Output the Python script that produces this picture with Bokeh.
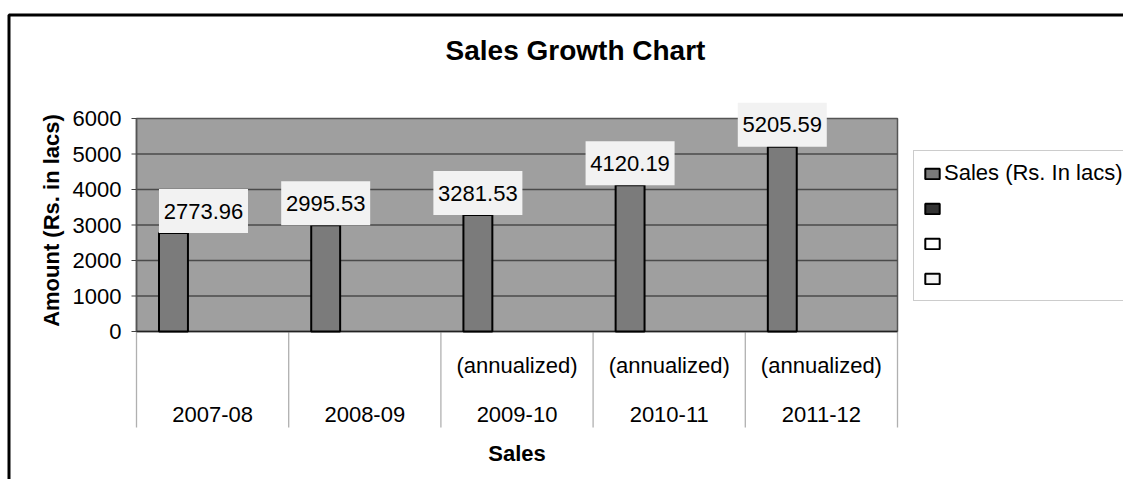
import math
from bokeh.plotting import figure
from bokeh.models import ColumnDataSource, Range1d, Legend, LegendItem
from bokeh.core.properties import value
from bokeh.embed import file_html
from bokeh.resources import INLINE

# ---------------- data ----------------
years = ["2007-08", "2008-09", "2009-10", "2010-11", "2011-12"]
notes = ["", "", "(annualized)", "(annualized)", "(annualized)"]
sales = [2773.96, 2995.53, 3281.53, 4120.19, 5205.59]
series_names = ["Sales (Rs. In lacs)", " ", " ", " "]
y_ticks = [0, 1000, 2000, 3000, 4000, 5000, 6000]
title_text = "Sales Growth Chart"
x_title = "Sales"
y_title = "Amount (Rs. in lacs)"

# ---------------- layout (figure pixels) ----------------
W, H = 1123, 479
PLOT_L, PLOT_R = 136, 897
PLOT_T, PLOT_B = 118, 331
Y_MAX = y_ticks[-1]
n = len(years)
sx = (PLOT_R - PLOT_L) / n
sy = (PLOT_B - PLOT_T) / Y_MAX


def X(px):
    return (px - PLOT_L) / sx


def Y(py):
    return (PLOT_B - py) / sy


def dx(px):
    return px / sx


def dy(px):
    return px / sy


FONT_NAME = "Liberation Sans"
FONT = value(FONT_NAME)

p = figure(width=W, height=H, x_range=Range1d(X(0), X(W)), y_range=Range1d(Y(H), Y(0)),
           x_axis_type=None, y_axis_type=None, toolbar_location=None,
           output_backend="svg", min_border=0, outline_line_color=None,
           background_fill_color="white", border_fill_color="white")

# plot area
p.quad(left=0, right=n, bottom=0, top=Y_MAX, fill_color="#9f9f9f",
       line_color="#555555", line_width=1.5)
# gridlines
grid = [t for t in y_ticks if 0 < t < Y_MAX]
p.segment(x0=[0] * len(grid), x1=[n] * len(grid), y0=grid, y1=grid,
          line_color="#4a4a4a", line_width=1.3)
# category dividers below the axis
bounds = list(range(n + 1))
p.segment(x0=bounds, x1=bounds, y0=[0] * len(bounds), y1=[Y(427)] * len(bounds),
          line_color="#b0b0b0", line_width=1.3)
# y axis line + ticks
p.segment(x0=[0], x1=[0], y0=[0], y1=[Y_MAX], line_color="#555555", line_width=1.5)
p.segment(x0=[X(PLOT_L - 5)] * len(y_ticks), x1=[0] * len(y_ticks), y0=y_ticks, y1=y_ticks,
          line_color="#444444", line_width=1.2)
# x axis line
p.segment(x0=[0], x1=[n], y0=[0], y1=[0], line_color="#222222", line_width=1.5)

# bars (first of four series in each group)
BAR_W = 0.19
BAR_OFF = -0.257
bar_x = [i + 0.5 + BAR_OFF for i in range(n)]
src = ColumnDataSource(dict(x=bar_x, top=sales))
r1 = p.vbar(x="x", top="top", width=BAR_W, source=src, fill_color="#7b7b7b",
            line_color="black", line_width=2)
# the three other (empty) series shown in the legend
empty_colors = ["#333333", "#ffffff", "#f4f4f4"]
extra = []
for c in empty_colors:
    extra.append(p.vbar(x=[float("nan")], top=[float("nan")], width=BAR_W, fill_color=c,
                        line_color="black", line_width=2))

# data labels on boxes
label_shift_px = [30, 0, 0, 0, 0]
BOX_W, BOX_H = 89, 44
lab_x = [bx + dx(s) for bx, s in zip(bar_x, label_shift_px)]
lab_y = [v + dy(BOX_H / 2) for v in sales]
lab_src = ColumnDataSource(dict(x=lab_x, y=lab_y, t=[f"{v:.2f}" for v in sales]))
p.rect(x="x", y="y", width=dx(BOX_W), height=dy(BOX_H), source=lab_src,
       fill_color="#f2f2f2", line_color=None)
p.text(x="x", y="y", text="t", source=lab_src, text_align="center", text_baseline="middle",
       text_font=FONT, text_font_size="22px", text_color="black")

# y tick labels
p.text(x=[X(121)] * len(y_ticks), y=y_ticks, text=[str(t) for t in y_ticks],
       text_align="right", text_baseline="middle", text_font=FONT,
       text_font_size="22px", text_color="black")

# category labels
centers = [i + 0.5 for i in range(n)]
p.text(x=centers, y=[Y(365)] * n, text=notes, text_align="center", text_baseline="middle",
       text_font=FONT, text_font_size="22px", text_color="black")
p.text(x=centers, y=[Y(414)] * n, text=years, text_align="center", text_baseline="middle",
       text_font=FONT, text_font_size="22px", text_color="black")

# axis titles
p.text(x=[n / 2], y=[Y(453)], text=[x_title], text_align="center", text_baseline="middle",
       text_font=FONT, text_font_size="22px", text_font_style="bold", text_color="black")
p.text(x=[X(51)], y=[Y(220)], text=[y_title], angle=math.pi / 2, text_align="center",
       text_baseline="middle", text_font=FONT, text_font_size="22px",
       text_font_style="bold", text_color="black")

# chart title
p.text(x=[X(575)], y=[Y(50)], text=[title_text], text_align="center", text_baseline="middle",
       text_font=FONT, text_font_size="28px", text_font_style="bold", text_color="black")

# outer chart border
p.quad(left=[X(8.5)], right=[X(W + 40)], top=[Y(14.5)], bottom=[Y(H + 40)],
       fill_color=None, line_color="black", line_width=3)

# legend
items = [LegendItem(label=value(nm), renderers=[r])
         for nm, r in zip(series_names, [r1] + extra)]
LEG_L, LEG_B = 913, 301
legend = Legend(items=items, location=(LEG_L, H - LEG_B), label_text_font=FONT_NAME,
                label_text_font_size="22px", label_text_color="black",
                glyph_width=18, glyph_height=13,
                label_standoff=3, label_height=25, spacing=10, padding=9, margin=0,
                border_line_color="#999999", border_line_width=1.5,
                background_fill_color="white", background_fill_alpha=1.0,
                label_width=260)
p.add_layout(legend)

open("out.html", "w").write(file_html(p, INLINE))
